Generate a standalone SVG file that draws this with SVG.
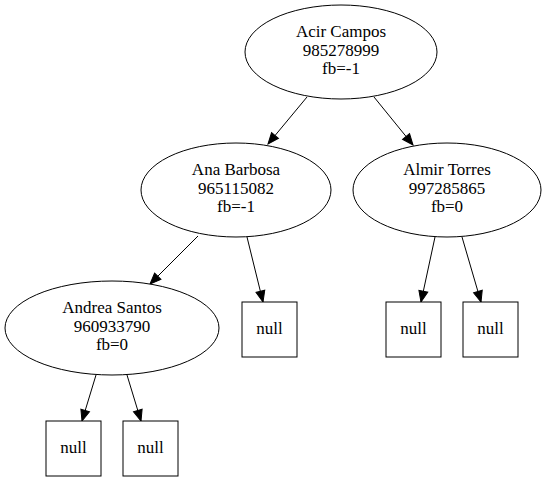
<svg xmlns="http://www.w3.org/2000/svg" width="546" height="481" viewBox="0 0 546 481">
<style>
.n{fill:#fff;stroke:#000;stroke-width:1}
.t{font-family:"Liberation Serif","Times New Roman",serif;font-size:17px;fill:#000;text-anchor:middle}
.e{stroke:#000;stroke-width:1;fill:none;marker-end:url(#ah)}
</style>
<defs>
<marker id="ah" markerUnits="userSpaceOnUse" markerWidth="13" markerHeight="10" refX="11" refY="4.5" orient="auto" overflow="visible">
<path d="M0,0 L11,4.5 L0,9 z" fill="#000" stroke="#000"/>
</marker>
</defs>
<rect width="546" height="481" fill="#fff"/>
<g id="edges">
<line class="e" x1="307" y1="97" x2="268" y2="144"/>
<line class="e" x1="374" y1="97" x2="413" y2="145"/>
<line class="e" x1="198" y1="236" x2="150" y2="284"/>
<line class="e" x1="247" y1="237" x2="263" y2="302"/>
<line class="e" x1="435" y1="237" x2="421" y2="302"/>
<line class="e" x1="462" y1="237" x2="481" y2="302"/>
<line class="e" x1="96" y1="375" x2="82" y2="421"/>
<line class="e" x1="127" y1="375" x2="141" y2="421"/>
</g>
<g id="acir">
<ellipse class="n" cx="341" cy="52" rx="96" ry="47"/>
<text class="t" x="341" y="37">Acir Campos</text>
<text class="t" x="341" y="56">985278999</text>
<text class="t" x="341" y="74">fb=-1</text>
</g>
<g id="ana">
<ellipse class="n" cx="236" cy="190" rx="95" ry="47"/>
<text class="t" x="236" y="175">Ana Barbosa</text>
<text class="t" x="236" y="194">965115082</text>
<text class="t" x="236" y="212">fb=-1</text>
</g>
<g id="almir">
<ellipse class="n" cx="447" cy="190" rx="94" ry="47"/>
<text class="t" x="447" y="175">Almir Torres</text>
<text class="t" x="447" y="194">997285865</text>
<text class="t" x="447" y="212">fb=0</text>
</g>
<g id="andrea">
<ellipse class="n" cx="112" cy="328" rx="107" ry="47"/>
<text class="t" x="112" y="313">Andrea Santos</text>
<text class="t" x="112" y="332">960933790</text>
<text class="t" x="112" y="350">fb=0</text>
</g>
<g id="null1">
<rect class="n" x="242" y="302" width="55" height="55"/>
<text class="t" x="269.5" y="334">null</text>
</g>
<g id="null2">
<rect class="n" x="386" y="302" width="55" height="55"/>
<text class="t" x="413.5" y="334">null</text>
</g>
<g id="null3">
<rect class="n" x="463" y="302" width="55" height="55"/>
<text class="t" x="490.5" y="334">null</text>
</g>
<g id="null4">
<rect class="n" x="46" y="421" width="55" height="55"/>
<text class="t" x="73.5" y="453">null</text>
</g>
<g id="null5">
<rect class="n" x="123" y="421" width="55" height="55"/>
<text class="t" x="150.5" y="453">null</text>
</g>
</svg>
